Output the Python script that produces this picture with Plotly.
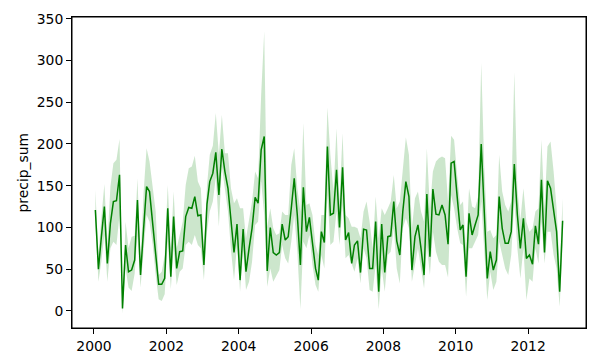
import pandas as pd
import plotly.graph_objects as go

# monthly dates (mid-month), Jan 2000 .. Dec 2012
dates = pd.date_range(start="2000-01-01", periods=156, freq="MS") + pd.Timedelta(days=14)

mean_vals = [
    121, 50, 88, 125, 57, 105, 131, 132, 163, 3,
    79, 47, 49, 61, 133, 43, 97, 149, 143, 105,
    69, 32, 32, 39, 123, 41, 113, 51, 71, 72,
    113, 124, 123, 137, 114, 115, 55, 128, 155, 165,
    190, 139, 194, 167, 147, 107, 70, 104, 37, 98,
    47, 75, 99, 136, 129, 193, 209, 48, 100, 70,
    67, 70, 104, 85, 89, 123, 159, 115, 55, 148,
    95, 112, 83, 51, 37, 95, 82, 197, 115, 117,
    169, 100, 172, 85, 94, 57, 79, 84, 46, 98,
    97, 51, 51, 107, 23, 104, 46, 89, 90, 131,
    84, 67, 119, 155, 137, 49, 89, 103, 75, 43,
    140, 65, 146, 116, 115, 127, 115, 80, 177, 179,
    137, 97, 103, 41, 117, 91, 103, 115, 200, 119,
    39, 71, 49, 61, 137, 99, 81, 81, 95, 176,
    115, 75, 111, 63, 67, 56, 102, 80, 157, 70,
    156, 147, 123, 95, 23, 108,
]

upper_vals = [
    145, 67, 111, 152, 80, 149, 177, 181, 206, 12,
    107, 75, 89, 90, 159, 59, 140, 195, 179, 150,
    119, 43, 47, 67, 151, 75, 143, 75, 91, 107,
    151, 171, 173, 186, 155, 147, 75, 150, 187, 198,
    237, 187, 235, 189, 189, 147, 129, 135, 123, 123,
    87, 107, 131, 167, 159, 259, 335, 101, 123, 99,
    91, 93, 119, 115, 115, 175, 195, 147, 119, 225,
    127, 129, 115, 79, 67, 115, 115, 244, 187, 143,
    219, 131, 213, 115, 111, 101, 101, 99, 87, 119,
    131, 107, 75, 137, 87, 123, 115, 123, 131, 163,
    123, 131, 167, 208, 187, 99, 135, 143, 119, 107,
    195, 123, 167, 179, 183, 185, 183, 131, 210, 205,
    163, 127, 131, 75, 147, 125, 123, 137, 297, 175,
    95, 97, 87, 91, 187, 143, 127, 119, 131, 286,
    147, 109, 147, 107, 95, 99, 119, 123, 205, 123,
    197, 203, 167, 123, 51, 135,
]

lower_vals = [
    107, 35, 59, 91, 35, 75, 83, 79, 115, -3,
    51, 28, 24, 45, 91, 28, 70, 115, 107, 80,
    43, 14, 12, 20, 83, 26, 75, 31, 47, 51,
    79, 83, 79, 91, 79, 75, 37, 95, 119, 131,
    160, 101, 173, 147, 119, 73, 37, 79, 23, 73,
    25, 35, 59, 103, 107, 155, 115, 29, 51, 35,
    43, 49, 79, 63, 57, 83, 115, 71, 2, 83,
    75, 91, 55, 31, 23, 67, 51, 139, 79, 83,
    119, 79, 127, 63, 67, 55, 47, 63, 33, 75,
    63, 25, 23, 55, 2, 51, 23, 67, 71, 99,
    51, 33, 99, 111, 99, 35, 55, 75, 51, 27,
    79, 43, 95, 71, 59, 55, 55, 40, 139, 123,
    99, 81, 79, 17, 75, 75, 83, 91, 131, 75,
    13, 47, 25, 35, 83, 67, 51, 43, 67, 131,
    75, 39, 75, 13, 39, 35, 75, 57, 107, 57,
    95, 95, 67, 51, 5, 79,
]

year_ticks = ["2000", "2002", "2004", "2006", "2008", "2010", "2012"]
y_ticks = [0, 50, 100, 150, 200, 250, 300, 350]

FONT = "DejaVu Sans"
FS = 13.9

fig = go.Figure()
fig.add_trace(go.Scatter(x=dates, y=lower_vals, mode="lines", line=dict(width=0),
                         hoverinfo="skip", showlegend=False))
fig.add_trace(go.Scatter(x=dates, y=upper_vals, mode="lines", line=dict(width=0),
                         fill="tonexty", fillcolor="rgba(0,128,0,0.2)",
                         hoverinfo="skip", showlegend=False))
fig.add_trace(go.Scatter(x=dates, y=mean_vals, mode="lines",
                         line=dict(color="#008000", width=1.5), showlegend=False))

span = dates[-1] - dates[0]
x_range = [dates[0] - span * 0.05, dates[-1] + span * 0.05]

axis_common = dict(
    showgrid=False, zeroline=False, showline=True, mirror=True,
    linecolor="black", linewidth=1, ticks="outside", ticklen=5,
    tickwidth=1, tickcolor="black", tickfont=dict(size=FS), automargin=False,
)

fig.update_layout(
    width=600, height=363,
    margin=dict(l=72, r=14, t=17, b=35),
    paper_bgcolor="white", plot_bgcolor="white",
    font=dict(family=FONT, size=FS, color="black"),
    xaxis=dict(range=x_range, tickvals=[y + "-01-01" for y in year_ticks],
               ticktext=year_ticks, **axis_common),
    yaxis=dict(range=[-20.4, 352.1], tickvals=y_ticks, **axis_common),
    shapes=[dict(type="rect", xref="paper", yref="paper", x0=0, y0=0, x1=1, y1=1,
                 line=dict(color="black", width=1), layer="above")],
    annotations=[dict(
        text="precip_sum", textangle=-90, showarrow=False,
        xref="paper", yref="paper", x=(22 - 72) / 514, y=0.5,
        xanchor="center", yanchor="middle", font=dict(size=FS, family=FONT),
    )],
)

fig.write_html("out.html", config={"displayModeBar": False},
               post_script="document.body.style.margin='0';")
